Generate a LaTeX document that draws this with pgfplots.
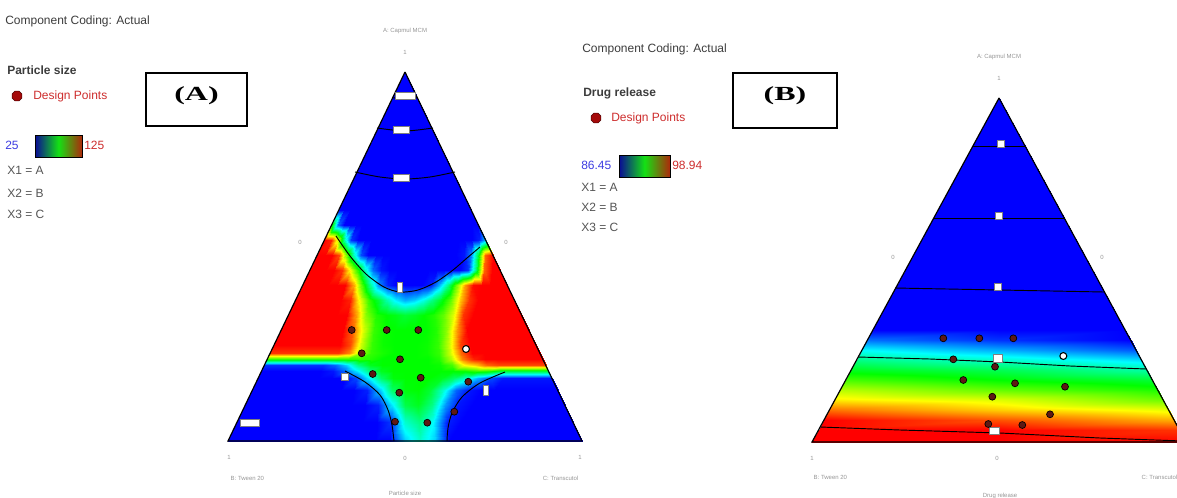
\documentclass[border=0pt]{standalone}
\usepackage{pgfplots}
\usepackage{pgfplotstable}
\pgfplotsset{compat=1.18}
\usetikzlibrary{shapes.geometric}
\usepackage{fontspec}
\setmainfont{Liberation Sans}
\newfontfamily\boxfont{Liberation Serif}

\definecolor{txt}{RGB}{60,60,60}
\definecolor{txtb}{RGB}{85,85,85}
\definecolor{lbl}{RGB}{150,150,150}
\definecolor{legred}{RGB}{205,45,45}
\definecolor{legblue}{RGB}{60,60,225}
\definecolor{dpfill}{RGB}{95,25,20}
\definecolor{hexfill}{RGB}{165,10,10}
\definecolor{barlo}{RGB}{10,10,150}
\definecolor{barmid}{RGB}{20,225,20}
\definecolor{barhi}{RGB}{175,40,10}

\newcommand\legfont{\fontsize{9}{10.8}\selectfont}
\newcommand\tickfont{\fontsize{4.5}{5.4}\selectfont}

\pgfplotsset{
  colormap={dx}{rgb255=(0,0,255) rgb255=(0,255,255) rgb255=(0,255,0) rgb255=(255,255,0) rgb255=(255,0,0)},
  canvas/.style={
    width=882.75pt, height=372.75pt, scale only axis,
    xmin=0, xmax=1177, ymin=0, ymax=497, y dir=reverse,
    axis lines=none, clip=false, at={(0,0)}, anchor=south west,
    colormap name=dx,
  },
  dpoint/.style={only marks, mark=*, mark size=2.6pt,
    mark options={fill=dpfill, draw=black, line width=0.5pt}},
  wpoint/.style={only marks, mark=*, mark size=2.6pt,
    mark options={fill=white, draw=black, line width=0.8pt}},
  cline/.style={black, line width=0.7pt, smooth},
}
\newcommand\clabel[4]{\node[draw=gray, fill=white, line width=0.3pt,
  minimum width=#3pt, minimum height=#4pt, inner sep=0pt] at (axis cs:#1,#2) {};}

% Particle size field: column index k (0..24 across each row), row height y, value v
\pgfplotstableread{
k y v
0 72 25
1 72 25
2 72 25
3 72 25
4 72 25
5 72 25
6 72 25
7 72 25
8 72 25
9 72 25
10 72 25
11 72 25
12 72 25
13 72 25
14 72 25
15 72 25
16 72 25
17 72 25
18 72 25
19 72 25
20 72 25
21 72 25
22 72 25
23 72 25
24 72 25

0 210 25
1 210 25
2 210 25
3 210 25
4 210 25
5 210 25
6 210 25
7 210 25
8 210 25
9 210 25
10 210 25
11 210 25
12 210 25
13 210 25
14 210 25
15 210 25
16 210 25
17 210 25
18 210 25
19 210 25
20 210 25
21 210 25
22 210 25
23 210 25
24 210 25

0 225 75
1 225 35
2 225 25
3 225 25
4 225 25
5 225 25
6 225 25
7 225 25
8 225 25
9 225 25
10 225 25
11 225 25
12 225 25
13 225 25
14 225 25
15 225 25
16 225 25
17 225 25
18 225 25
19 225 25
20 225 25
21 225 25
22 225 25
23 225 25
24 225 25

0 240 125
1 240 122
2 240 95
3 240 55
4 240 30
5 240 25
6 240 25
7 240 25
8 240 25
9 240 25
10 240 25
11 240 25
12 240 25
13 240 25
14 240 25
15 240 25
16 240 25
17 240 25
18 240 25
19 240 25
20 240 25
21 240 25
22 240 25
23 240 28
24 240 45

0 255 125
1 255 125
2 255 125
3 255 118
4 255 88
5 255 55
6 255 32
7 255 25
8 255 25
9 255 25
10 255 25
11 255 25
12 255 25
13 255 25
14 255 25
15 255 25
16 255 25
17 255 25
18 255 25
19 255 25
20 255 27
21 255 38
22 255 70
23 255 115
24 255 125

0 270 125
1 270 125
2 270 125
3 270 125
4 270 120
5 270 100
6 270 78
7 270 55
8 270 35
9 270 27
10 270 25
11 270 25
12 270 25
13 270 25
14 270 25
15 270 25
16 270 25
17 270 25
18 270 25
19 270 25
20 270 30
21 270 65
22 270 115
23 270 125
24 270 125

0 285 125
1 285 125
2 285 125
3 285 125
4 285 125
5 285 125
6 285 108
7 285 82
8 285 58
9 285 38
10 285 28
11 285 25
12 285 25
13 285 25
14 285 25
15 285 28
16 285 42
17 285 62
18 285 85
19 285 110
20 285 124
21 285 125
22 285 125
23 285 125
24 285 125

0 300 125
1 300 125
2 300 125
3 300 125
4 300 125
5 300 125
6 300 122
7 300 100
8 300 80
9 300 70
10 300 58
11 300 48
12 300 42
13 300 45
14 300 52
15 300 62
16 300 72
17 300 85
18 300 105
19 300 120
20 300 125
21 300 125
22 300 125
23 300 125
24 300 125

0 315 125
1 315 125
2 315 125
3 315 125
4 315 125
5 315 125
6 315 125
7 315 110
8 315 88
9 315 78
10 315 75
11 315 73
12 315 70
13 315 72
14 315 75
15 315 78
16 315 85
17 315 98
18 315 120
19 315 125
20 315 125
21 315 125
22 315 125
23 315 125
24 315 125

0 330 125
1 330 125
2 330 125
3 330 125
4 330 125
5 330 125
6 330 125
7 330 115
8 330 95
9 330 80
10 330 76
11 330 75
12 330 75
13 330 75
14 330 75
15 330 78
16 330 88
17 330 110
18 330 125
19 330 125
20 330 125
21 330 125
22 330 125
23 330 125
24 330 125

0 345 125
1 345 125
2 345 125
3 345 125
4 345 125
5 345 125
6 345 125
7 345 118
8 345 95
9 345 80
10 345 76
11 345 75
12 345 75
13 345 75
14 345 76
15 345 80
16 345 95
17 345 118
18 345 125
19 345 125
20 345 125
21 345 125
22 345 125
23 345 125
24 345 125

0 353 120
1 353 120
2 353 120
3 353 120
4 353 120
5 353 120
6 353 120
7 353 112
8 353 92
9 353 80
10 353 77
11 353 75
12 353 75
13 353 75
14 353 76
15 353 80
16 353 95
17 353 115
18 353 125
19 353 125
20 353 125
21 353 125
22 353 125
23 353 125
24 353 125

0 359 80
1 359 80
2 359 80
3 359 80
4 359 80
5 359 80
6 359 80
7 359 80
8 359 80
9 359 78
10 359 75
11 359 75
12 359 75
13 359 75
14 359 75
15 359 78
16 359 92
17 359 112
18 359 122
19 359 125
20 359 125
21 359 125
22 359 125
23 359 125
24 359 125

0 365 30
1 365 30
2 365 30
3 365 30
4 365 30
5 365 30
6 365 35
7 365 45
8 365 62
9 365 72
10 365 75
11 365 75
12 365 75
13 365 75
14 365 75
15 365 76
16 365 82
17 365 100
18 365 105
19 365 115
20 365 118
21 365 118
22 365 118
23 365 118
24 365 118

0 371 25
1 371 25
2 371 25
3 371 25
4 371 25
5 371 25
6 371 27
7 371 35
8 371 48
9 371 62
10 371 72
11 371 75
12 371 75
13 371 75
14 371 75
15 371 75
16 371 75
17 371 76
18 371 80
19 371 78
20 371 70
21 371 70
22 371 70
23 371 70
24 371 70

0 378 25
1 378 25
2 378 25
3 378 25
4 378 25
5 378 25
6 378 25
7 378 25
8 378 32
9 378 48
10 378 65
11 378 74
12 378 75
13 378 75
14 378 75
15 378 72
16 378 65
17 378 55
18 378 42
19 378 32
20 378 27
21 378 27
22 378 27
23 378 27
24 378 27

0 390 25
1 390 25
2 390 25
3 390 25
4 390 25
5 390 25
6 390 25
7 390 25
8 390 25
9 390 28
10 390 45
11 390 65
12 390 74
13 390 75
14 390 70
15 390 55
16 390 35
17 390 27
18 390 25
19 390 25
20 390 25
21 390 25
22 390 25
23 390 25
24 390 25

0 405 25
1 405 25
2 405 25
3 405 25
4 405 25
5 405 25
6 405 25
7 405 25
8 405 25
9 405 25
10 405 28
11 405 48
12 405 68
13 405 72
14 405 62
15 405 40
16 405 27
17 405 25
18 405 25
19 405 25
20 405 25
21 405 25
22 405 25
23 405 25
24 405 25

0 422 25
1 422 25
2 422 25
3 422 25
4 422 25
5 422 25
6 422 25
7 422 25
8 422 25
9 422 25
10 422 25
11 422 30
12 422 55
13 422 62
14 422 50
15 422 28
16 422 25
17 422 25
18 422 25
19 422 25
20 422 25
21 422 25
22 422 25
23 422 25
24 422 25

0 441 25
1 441 25
2 441 25
3 441 25
4 441 25
5 441 25
6 441 25
7 441 25
8 441 25
9 441 25
10 441 25
11 441 25
12 441 45
13 441 55
14 441 45
15 441 25
16 441 25
17 441 25
18 441 25
19 441 25
20 441 25
21 441 25
22 441 25
23 441 25
24 441 25
}\fieldA

% Drug release field: position across each row u (0..1), row height y, value v
\pgfplotstableread{
u y v
0 98 86.45
0.5 98 86.45
1 98 86.45

0 330 86.45
0.5 330 86.45
1 330 86.45

0 340 87.82
0.5 340 87.07
1 340 86.45

0 350 89.57
0.5 350 88.57
1 350 87.57

0 360 91.07
0.5 360 90.20
1 360 89.20

0 370 92.32
0.5 370 91.70
1 370 90.70

0 380 93.57
0.5 380 92.70
1 380 92.07

0 390 94.94
0.5 390 93.94
1 390 93.07

0 400 96.07
0.5 400 95.44
1 400 94.07

0 410 97.57
0.5 410 96.44
1 410 95.57

0 420 98.94
0.5 420 97.94
1 420 96.82

0 430 98.94
0.5 430 98.94
1 430 98.32

0 442 98.94
0.5 442 98.94
1 442 98.94
}\fieldB

\begin{document}
\begin{tikzpicture}
% ---------------- (A) Particle size ----------------
\begin{axis}[canvas, name=main, point meta min=25, point meta max=125]
\addplot[surf, shader=interp, mesh/rows=20, mesh/cols=25, point meta=\thisrow{v}]
  table[x expr={405+(\thisrow{k}/12-1)*177*(\thisrow{y}-72)/369}, y=y] {\fieldA};
% contour lines
\addplot[cline] coordinates {(393,98) (405,97) (417,98)};
\addplot[cline] coordinates {(377,128) (405,131) (433,128)};
\addplot[cline] coordinates {(355,172) (380,177) (405,179) (430,177) (455,172)};
\addplot[cline] coordinates {(336,236) (350,256) (366,274) (384,287) (400,292) (418,290) (436,282) (453,270) (467,258) (480,247)};
\addplot[cline] coordinates {(345,371) (365,382) (380,395) (388,410) (392,425) (394,441)};
\addplot[cline] coordinates {(505,372) (480,383) (462,397) (452,413) (448,428) (447,441)};
% triangle frame
\addplot[black, line width=0.9pt] coordinates {(405,72) (228,441) (582,441) (405,72)};
% contour value tags
\clabel{405}{96}{15}{5}
\clabel{401}{130}{12}{5}
\clabel{401}{178}{12}{5}
\clabel{400}{287}{3.5}{7.5}
\clabel{345}{377}{5.5}{5.5}
\clabel{486}{390}{3.5}{7.5}
\clabel{250}{423}{14}{5}
% design points
\addplot[dpoint] coordinates {(351.7,330) (386.7,330) (418.3,330) (361.7,353.3) (400,359.3)
  (372.7,374) (420.7,377.7) (468.3,381.7) (399.3,392.7) (454.3,411.7) (395,421.7) (427.3,422.7)};
\addplot[wpoint] coordinates {(466,349)};

% axis annotations
\node[text=lbl, font=\tickfont] at (axis cs:405,31) {A: Capmul MCM};
\node[text=lbl, font=\tickfont] at (axis cs:405,52) {1};
\node[text=lbl, font=\tickfont] at (axis cs:300,242) {0};
\node[text=lbl, font=\tickfont] at (axis cs:506,242) {0};
\node[text=lbl, font=\tickfont] at (axis cs:405,458) {0};
\node[text=lbl, font=\tickfont] at (axis cs:229,457) {1};
\node[text=lbl, font=\tickfont] at (axis cs:580,457) {1};
\node[text=lbl, font=\tickfont, anchor=west] at (axis cs:226,478) {B: Tween 20};
\node[text=lbl, font=\tickfont, anchor=east] at (axis cs:583,478) {C: Transcutol};
\node[text=lbl, font=\tickfont, anchor=north] at (axis cs:405,486) {Particle size};

% legend block
\node[text=txt, font=\legfont, anchor=west, inner sep=0pt] at (axis cs:5,21) {Component Coding: Actual};
\node[text=txt, font=\legfont\bfseries, anchor=west, inner sep=0pt] at (axis cs:7,70) {Particle size};
\node[regular polygon, regular polygon sides=8, minimum size=8pt, inner sep=0pt,
  fill=hexfill, draw=black!70!red] at (axis cs:17,96) {};
\node[text=legred, font=\legfont, anchor=west, inner sep=0pt] at (axis cs:33,96) {Design Points};
\node[text=legblue, font=\legfont, anchor=west, inner sep=0pt] at (axis cs:5,145) {25};
\shade[left color=barlo, right color=barhi, middle color=barmid] (axis cs:35,135) rectangle (axis cs:82,157);
\draw[black, line width=0.6pt] (axis cs:35,135) rectangle (axis cs:82,157);
\node[text=legred, font=\legfont, anchor=west, inner sep=0pt] at (axis cs:84,145) {125};
\node[text=txtb, font=\legfont, anchor=west, inner sep=0pt] at (axis cs:7,170) {X1 = A};
\node[text=txtb, font=\legfont, anchor=west, inner sep=0pt] at (axis cs:7,193) {X2 = B};
\node[text=txtb, font=\legfont, anchor=west, inner sep=0pt] at (axis cs:7,214) {X3 = C};
\node[draw, line width=0.9pt, minimum width=75.75pt, minimum height=39.75pt, inner sep=0pt]
  at (axis cs:196.5,99.5) {};
\node at (axis cs:196.5,96) {\scalebox{1.6}[1]{\boxfont\bfseries\fontsize{15}{15}\selectfont (A)}};
\end{axis}

% ---------------- (B) Drug release ----------------
\begin{axis}[canvas, point meta min=86.45, point meta max=98.94]
\addplot[surf, shader=interp, mesh/rows=13, mesh/cols=3, point meta=\thisrow{v}]
  table[x expr={999+(2*\thisrow{u}-1)*187*(\thisrow{y}-98)/344}, y=y] {\fieldB};
% contour lines
\addplot[black, line width=0.7pt] coordinates {(973,146) (1025,146)};
\addplot[black, line width=0.7pt] coordinates {(934,218) (1064,218)};
\addplot[black, line width=0.7pt] coordinates {(895,288) (1000,290) (1104,292)};
\addplot[black, line width=0.7pt] coordinates {(858,357) (930,359) (1000,362) (1070,366) (1146,369)};
\addplot[black, line width=0.7pt] coordinates {(820,427) (900,430) (1000,433) (1100,438) (1183,441)};
% triangle frame
\addplot[black, line width=0.9pt] coordinates {(999,98) (812,442) (1186,442) (999,98)};
% contour value tags
\clabel{1001}{144}{5}{5}
\clabel{999}{216}{5}{5}
\clabel{998}{287}{5}{5}
\clabel{998}{358}{6.5}{6}
\clabel{994}{431}{7.5}{5}
% design points
\addplot[dpoint] coordinates {(943.3,338.3) (979.3,338.3) (1013.3,338.3) (953.3,359.3) (995,366.7)
  (963.3,380) (1015,383.3) (1065,386.7) (992.3,396.7) (1050,414.3) (988.3,424) (1022.3,425)};
\addplot[wpoint] coordinates {(1063.3,356)};

% axis annotations
\node[text=lbl, font=\tickfont] at (axis cs:999,57) {A: Capmul MCM};
\node[text=lbl, font=\tickfont] at (axis cs:999,78) {1};
\node[text=lbl, font=\tickfont] at (axis cs:893,257) {0};
\node[text=lbl, font=\tickfont] at (axis cs:1102,257) {0};
\node[text=lbl, font=\tickfont] at (axis cs:997,458) {0};
\node[text=lbl, font=\tickfont] at (axis cs:812,458) {1};
\node[text=lbl, font=\tickfont, anchor=west] at (axis cs:809,477) {B: Tween 20};
\node[text=lbl, font=\tickfont, anchor=west] at (axis cs:1137,477) {C: Transcutol};
\node[text=lbl, font=\tickfont, anchor=north] at (axis cs:1000,488) {Drug release};

% legend block
\node[text=txt, font=\legfont, anchor=west, inner sep=0pt] at (axis cs:582,49) {Component Coding: Actual};
\node[text=txt, font=\legfont\bfseries, anchor=west, inner sep=0pt] at (axis cs:583,93) {Drug release};
\node[regular polygon, regular polygon sides=8, minimum size=8pt, inner sep=0pt,
  fill=hexfill, draw=black!70!red] at (axis cs:596,118) {};
\node[text=legred, font=\legfont, anchor=west, inner sep=0pt] at (axis cs:611,118) {Design Points};
\node[text=legblue, font=\legfont, anchor=west, inner sep=0pt] at (axis cs:581,165) {86.45};
\shade[left color=barlo, right color=barhi, middle color=barmid] (axis cs:619,155) rectangle (axis cs:670,177);
\draw[black, line width=0.6pt] (axis cs:619,155) rectangle (axis cs:670,177);
\node[text=legred, font=\legfont, anchor=west, inner sep=0pt] at (axis cs:672,165) {98.94};
\node[text=txtb, font=\legfont, anchor=west, inner sep=0pt] at (axis cs:581,187) {X1 = A};
\node[text=txtb, font=\legfont, anchor=west, inner sep=0pt] at (axis cs:581,207) {X2 = B};
\node[text=txtb, font=\legfont, anchor=west, inner sep=0pt] at (axis cs:581,227) {X3 = C};
\node[draw, line width=0.9pt, minimum width=78pt, minimum height=41.25pt, inner sep=0pt]
  at (axis cs:785,100.5) {};
\node at (axis cs:785,96) {\scalebox{1.6}[1]{\boxfont\bfseries\fontsize{15}{15}\selectfont (B)}};
\end{axis}
\pgfresetboundingbox
\path[use as bounding box] (main.south west) rectangle (main.north east);
\end{tikzpicture}
\end{document}
